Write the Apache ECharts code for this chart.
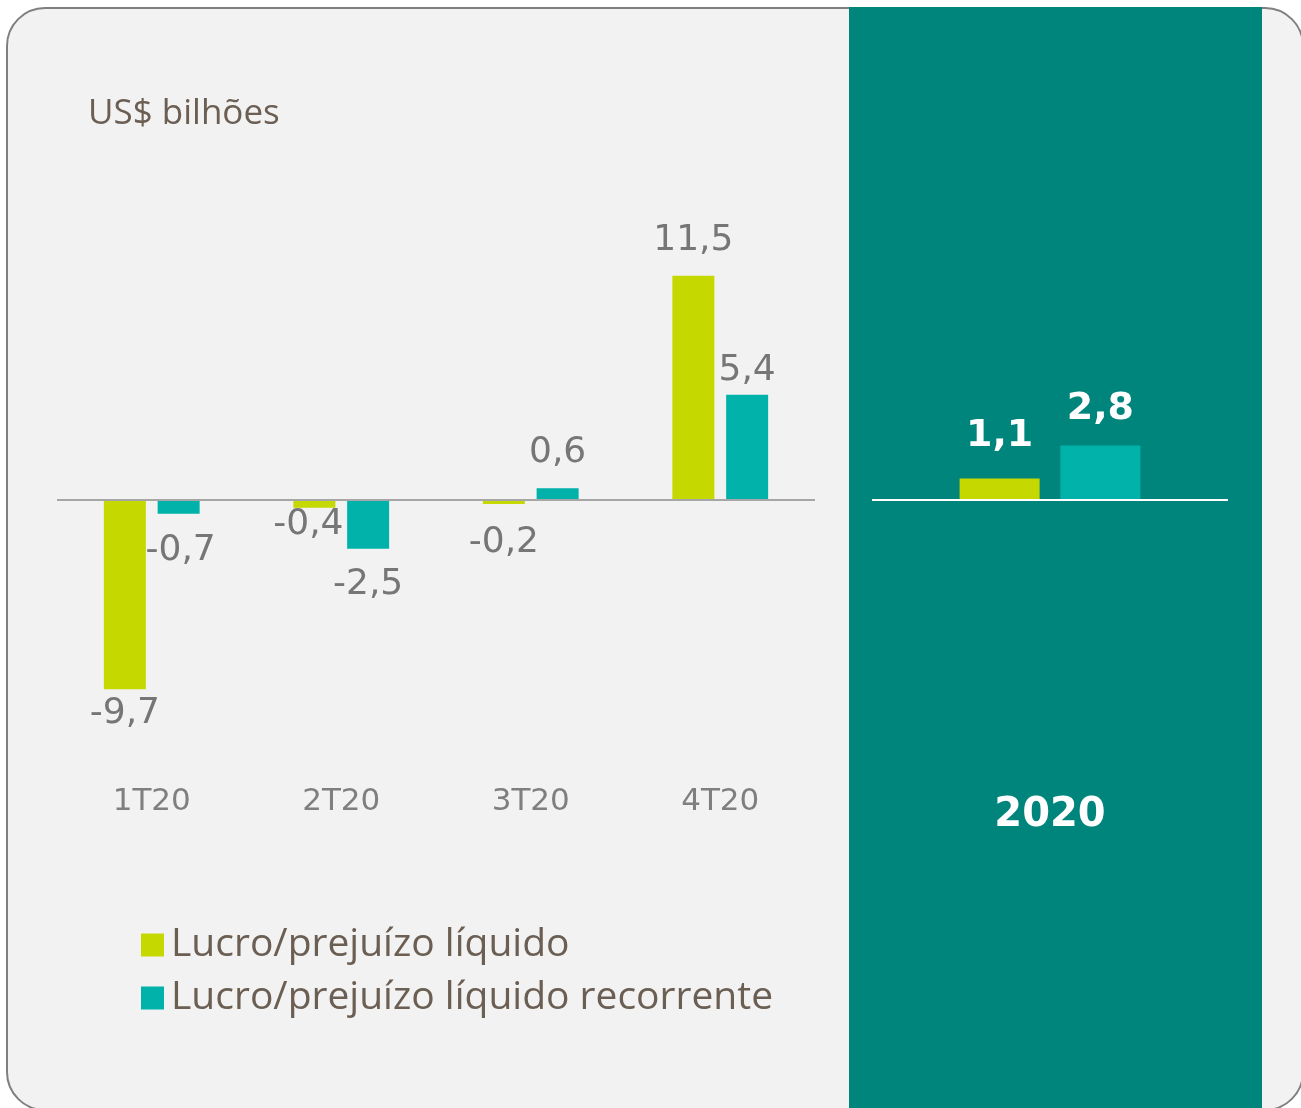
<!DOCTYPE html>
<html>
<head>
<meta charset="utf-8">
<script src="https://cdn.jsdelivr.net/npm/echarts@6/dist/echarts.min.js"></script>
<style>
  html, body { margin: 0; padding: 0; background: #ffffff; }
  #chart { width: 1301px; height: 1108px; }
</style>
</head>
<body>
<div id="chart"></div>
<script>
// dados
const quarters = ['1T20', '2T20', '3T20', '4T20'];
const lucro = [-9.7, -0.4, -0.2, 11.5];
const lucroRecorrente = [-0.7, -2.5, 0.6, 5.4];
const ano = ['2020'];
const lucroAno = [1.1];
const lucroRecorrenteAno = [2.8];
const seriesNames = ['Lucro/prejuízo líquido', 'Lucro/prejuízo líquido recorrente'];

// ajustes finos dos rótulos (distância da ponta da barra, deslocamento x)
const lucroLabelDist = [6, -1, 21, 17];
const lucroLabelDx = [0, -6, 0, 0];
const recLabelDist = [19, 18, 18, 6];
const recLabelDx = [2, 0, 0, 0];

const YELLOW = '#C5D800';
const TEAL = '#00B2A9';
const PANEL = '#00857D';
const LABEL_GRAY = '#767676';
const BROWN = '#6B5E53';

const fmt = v => v.toFixed(1).replace('.', ',');

function withLabels(values, dist, dx) {
  return values.map((v, i) => ({
    value: v,
    label: {
      position: v < 0 ? 'bottom' : 'top',
      distance: dist[i],
      offset: [dx[i], 0]
    }
  }));
}

const myChart = echarts.init(document.getElementById('chart'));

const baseLabel = {
  show: true,
  color: LABEL_GRAY,
  fontFamily: 'DejaVu Sans',
  fontSize: 36,
  lineHeight: 36,
  formatter: p => fmt(p.value)
};

const option = {
  animation: false,
  title: {
    text: 'US$ bilhões',
    left: 83,
    top: 89,
    textStyle: { color: BROWN, fontFamily: 'Open Sans', fontWeight: 'normal', fontSize: 35, lineHeight: 40 }
  },
  legend: {
    data: seriesNames,
    orient: 'vertical',
    left: 141,
    top: 925,
    padding: 0,
    icon: 'rect',
    itemWidth: 23,
    itemHeight: 23,
    itemGap: 13,
    textStyle: { color: BROWN, fontFamily: 'Open Sans', fontSize: 39, lineHeight: 40, padding: [0, 0, 0, 2] }
  },
  graphic: [
    {
      type: 'rect', z: -10,
      shape: { x: 7, y: 8, width: 1296, height: 1102, r: 38 },
      style: { fill: '#F2F2F2', stroke: '#7F7F7F', lineWidth: 2 }
    },
    {
      type: 'rect', z: -9,
      shape: { x: 849, y: 7, width: 413, height: 1101 },
      style: { fill: PANEL }
    }
  ],
  grid: [
    { left: 57, width: 758, top: 188, height: 546 },
    { left: 872, width: 356, top: 188, height: 546 }
  ],
  xAxis: [
    {
      type: 'category', gridIndex: 0, data: quarters,
      axisLine: { show: false }, axisTick: { show: false },
      axisLabel: { color: '#7F7F7F', fontFamily: 'DejaVu Sans', fontSize: 31, lineHeight: 30, margin: 53 }
    },
    {
      type: 'category', gridIndex: 1, data: ano,
      axisLine: { show: false }, axisTick: { show: false },
      axisLabel: { color: '#FFFFFF', fontFamily: 'DejaVu Sans', fontWeight: 'bold', fontSize: 40, lineHeight: 40, margin: 62 }
    }
  ],
  yAxis: [
    { type: 'value', gridIndex: 0, min: -12, max: 16, show: false },
    { type: 'value', gridIndex: 1, min: -12, max: 16, show: false }
  ],
  series: [
    {
      name: seriesNames[0], type: 'bar', xAxisIndex: 0, yAxisIndex: 0,
      barWidth: 42, barGap: '28%',
      itemStyle: { color: YELLOW },
      label: baseLabel,
      data: withLabels(lucro, lucroLabelDist, lucroLabelDx),
      markLine: {
        silent: true, symbol: 'none',
        label: { show: false },
        lineStyle: { color: '#A6A6A6', width: 2, type: 'solid' },
        data: [{ yAxis: 0 }]
      }
    },
    {
      name: seriesNames[1], type: 'bar', xAxisIndex: 0, yAxisIndex: 0,
      barWidth: 42, barGap: '28%',
      itemStyle: { color: TEAL },
      label: baseLabel,
      data: withLabels(lucroRecorrente, recLabelDist, recLabelDx)
    },
    {
      name: seriesNames[0], type: 'bar', xAxisIndex: 1, yAxisIndex: 1,
      barWidth: 80, barGap: '26%',
      itemStyle: { color: YELLOW },
      label: Object.assign({}, baseLabel, { color: '#FFFFFF', fontWeight: 'bold', fontSize: 38, lineHeight: 38, position: 'top', distance: 23 }),
      data: lucroAno,
      markLine: {
        silent: true, symbol: 'none',
        label: { show: false },
        lineStyle: { color: '#FFFFFF', width: 2, type: 'solid' },
        data: [{ yAxis: 0 }]
      }
    },
    {
      name: seriesNames[1], type: 'bar', xAxisIndex: 1, yAxisIndex: 1,
      barWidth: 80, barGap: '26%',
      itemStyle: { color: TEAL },
      label: Object.assign({}, baseLabel, { color: '#FFFFFF', fontWeight: 'bold', fontSize: 38, lineHeight: 38, position: 'top', distance: 17 }),
      data: lucroRecorrenteAno
    }
  ]
};

myChart.setOption(option);
</script>
</body>
</html>
